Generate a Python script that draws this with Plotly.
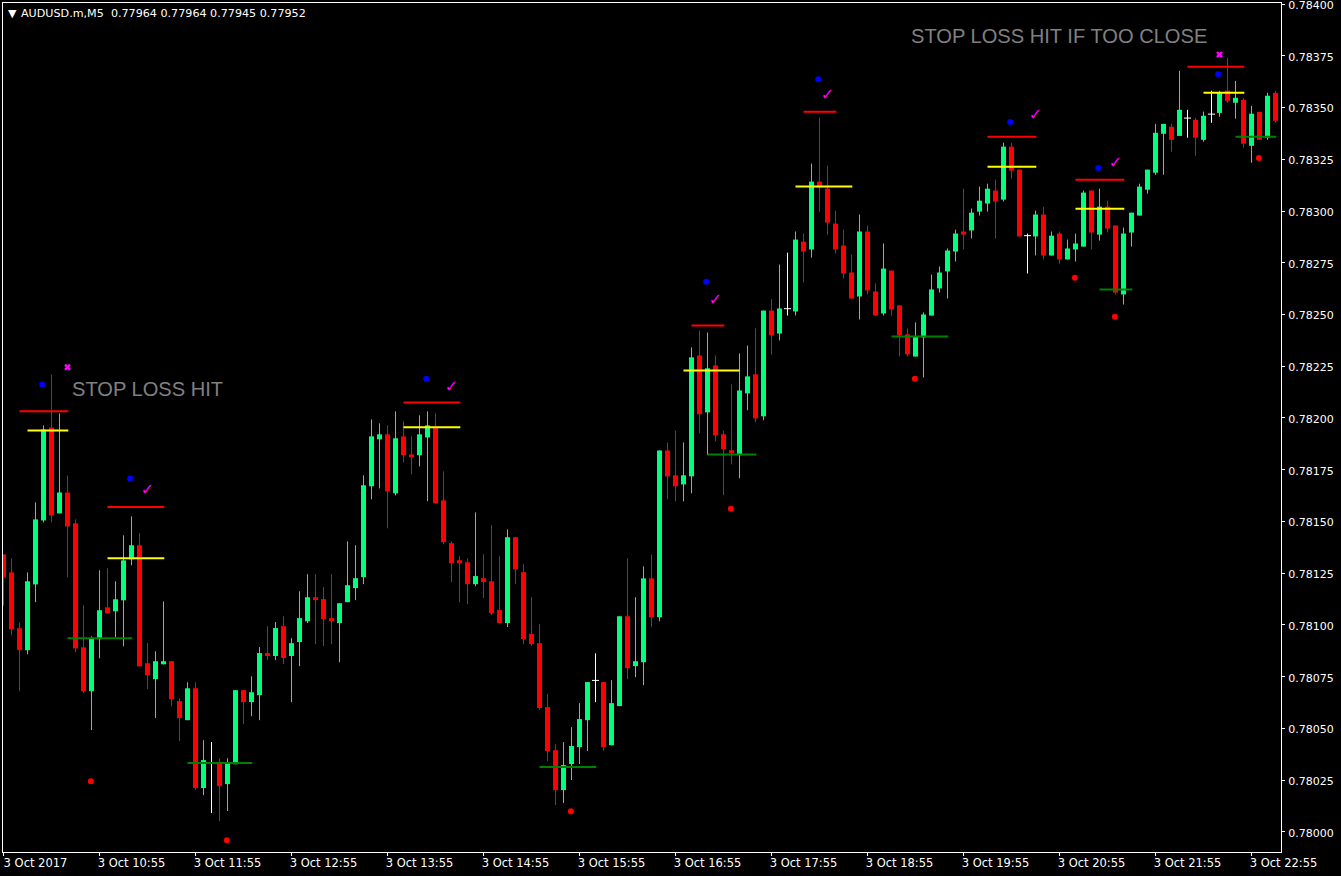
import plotly.graph_objects as go

# all prices are in points above zero, i.e. 78134.1 = 0.781341
BASE = 78000

opens = [134.1,125.4,98.4,87.8,119.6,150.5,195.4,153.9,164.0,149.1,89.2,68.0,93.1,108.5,106.6,111.9,131.7,138.5,81.5,73.8,
         81.0,82.5,63.2,54.0,69.4,21.2,33.1,33.1,23.1,32.7,68.5,62.7,66.1,86.4,85.0,99.4,85.0,91.7,101.8,113.4,
         112.5,103.3,100.9,111.0,117.8,123.1,167.0,189.7,192.1,163.6,191.1,182.4,182.0,190.6,195.5,160.2,139.5,131.3,130.3,119.7,
         122.6,121.1,107.2,100.9,142.4,125.5,95.6,91.2,60.3,39.5,20.2,32.8,41.0,54.0,73.2,72.4,41.9,60.8,104.2,80.1,
         82.0,122.5,103.7,184.3,172.3,167.9,171.8,230.2,202.7,225.4,192.1,184.4,182.0,211.9,221.1,200.8,251.9,240.8,252.8,251.5,
         285.2,281.4,314.2,310.8,293.9,283.3,270.3,258.7,290.1,261.1,250.5,271.2,254.4,240.4,229.7,238.9,249.5,262.6,270.8,280.4,
         290.1,290.6,299.7,303.6,309.9,305.5,331.1,320.0,288.1,287.7,298.3,278.5,289.1,276.6,281.4,282.8,309.9,288.6,302.1,293.0,
         259.7,289.6,297.8,310.3,318.5,337.3,340.7,336.3,344.9,344.1,334.4,346.8,347.4,358.1,352.3,353.7,331.5,347.9,335.4,357.1]
highs = [134.1,132.2,101.3,125.4,159.2,196.4,221.0,202.2,172.2,151.0,109.5,94.5,126.4,127.4,121.1,143.3,152.5,144.3,91.2,87.3,
         111.4,82.5,64.6,72.3,72.3,44.3,43.4,35.6,35.6,68.5,68.5,75.2,89.3,99.4,101.4,104.2,93.6,116.3,124.5,124.5,
         118.2,124.5,110.5,140.4,138.5,172.3,199.3,197.4,196.4,203.2,198.4,191.1,201.3,203.2,202.2,174.2,140.4,133.2,132.2,154.4,
         134.2,148.2,133.2,146.2,142.4,129.4,113.4,100.4,66.6,42.4,43.4,50.6,62.2,72.4,86.3,72.4,73.3,104.2,132.2,113.4,
         128.3,134.1,184.3,188.2,194.0,188.2,234.1,242.3,241.3,230.2,194.0,216.2,231.2,235.0,243.3,251.9,257.3,274.1,279.9,290.1,
         289.1,322.9,345.1,321.9,300.2,291.0,279.0,298.3,293.0,265.0,284.3,271.2,254.4,243.3,246.2,251.0,269.3,273.2,281.9,291.0,
         310.8,301.2,311.8,313.2,315.2,333.0,333.0,320.0,289.1,300.2,302.1,290.1,290.1,286.2,289.1,309.9,309.9,310.8,305.0,293.0,
         292.0,299.2,313.2,320.0,342.1,342.1,342.1,367.7,348.9,345.0,348.0,358.1,358.1,374.0,362.9,354.7,350.8,347.9,357.1,358.1]
lows = [109.2,95.0,68.0,85.8,111.0,149.6,149.6,153.9,123.0,86.8,67.0,49.2,83.9,105.6,94.1,89.7,128.8,80.0,69.0,55.0,
        81.0,60.7,43.9,54.0,20.2,17.8,9.1,5.2,10.1,32.7,52.1,55.9,54.0,83.0,83.0,81.1,62.7,80.1,100.9,90.7,
        89.8,90.7,82.0,111.0,112.0,119.7,160.7,166.0,146.7,162.6,178.6,172.8,176.6,159.8,158.8,139.0,120.7,111.0,110.0,118.7,
        113.0,104.7,100.9,99.0,119.7,90.7,89.8,58.9,34.2,13.0,14.0,25.1,32.8,39.1,62.7,39.1,41.9,60.8,73.8,74.8,
        70.9,98.9,101.8,160.7,159.7,159.7,163.6,192.6,182.0,188.7,162.7,177.6,170.9,203.7,197.9,198.9,230.7,237.5,249.5,249.5,
        265.5,277.5,299.7,288.6,279.5,267.4,257.7,247.6,259.7,249.5,249.5,249.5,229.7,229.7,229.7,219.6,249.5,260.6,257.7,275.6,
        281.4,286.7,297.8,299.7,286.7,304.6,315.7,287.7,269.8,278.5,276.6,278.5,274.6,276.6,275.6,282.8,281.4,285.7,289.6,259.7,
        254.8,282.8,297.8,308.4,317.5,317.5,328.6,336.3,335.4,326.7,333.5,342.6,345.5,352.3,344.6,330.6,323.3,334.4,334.4,342.6]
closes = [123.0,97.9,87.8,121.1,151.0,194.4,152.9,164.0,147.6,88.7,68.0,93.6,107.1,105.6,112.4,131.2,138.5,80.0,75.7,82.5,
          82.5,64.1,55.0,69.4,21.2,34.7,33.1,22.1,33.2,68.5,62.7,67.5,86.4,85.0,98.5,84.0,91.2,103.3,113.4,112.0,
          102.8,101.8,110.5,119.2,122.6,167.5,191.1,192.1,164.6,190.2,182.0,181.0,192.1,196.4,158.8,140.0,129.8,129.8,119.7,123.6,
          120.7,105.7,100.9,142.4,126.9,93.2,90.7,59.9,39.0,20.2,32.3,41.5,54.5,72.4,73.2,41.0,62.2,104.2,79.1,82.5,
          122.5,103.7,184.3,171.8,167.0,172.3,229.3,201.8,224.0,191.6,184.9,183.0,213.3,220.1,199.8,251.9,239.9,252.9,252.8,286.2,
          280.4,314.2,311.3,294.4,281.4,269.8,257.7,290.1,261.6,249.5,272.2,252.4,239.9,230.7,239.4,250.0,262.1,270.3,280.9,289.1,
          288.6,299.2,305.0,310.8,304.6,331.1,319.5,287.7,288.1,298.3,278.5,288.1,276.6,281.9,284.3,308.9,289.6,302.1,291.5,260.6,
          289.1,299.2,311.8,320.0,337.8,342.1,334.4,348.9,344.9,335.4,346.0,346.8,357.1,353.2,354.7,332.5,347.0,334.4,355.7,343.6]

# indicator levels: first bar, last bar, price
sl_start = [2, 13, 50, 86, 100, 123, 134, 148]
sl_end = [8.1, 20.1, 57.1, 90.1, 104.1, 129.1, 140.1, 155.1]
sl_level = [203.3, 157.0, 207.5, 244.7, 348.0, 335.9, 315.1, 369.7]
entry_start = [3, 13, 50, 85, 99, 123, 134, 150]
entry_end = [8.1, 20.1, 57.1, 92, 106.1, 129.1, 140.1, 155.1]
entry_level = [194.0, 132.2, 195.5, 223.0, 311.8, 321.4, 301.1, 357.1]
tp_start = [8, 23, 67, 88, 111, 137, 154]
tp_end = [16.1, 31.1, 74.1, 94.1, 118.1, 141.1, 159.1]
tp_level = [93.6, 33.3, 31.4, 182.4, 239.4, 262.1, 335.9]

blue_x = [4.84, 15.84, 52.84, 87.84, 101.84, 125.84, 136.84, 151.84]
blue_y = [216.2, 170.8, 219.0, 265.8, 363.7, 343.0, 320.8, 366.1]
red_x = [10.92, 27.92, 70.92, 90.92, 113.92, 133.92, 138.92, 156.92]
red_y = [24.5, -4.0, 10.0, 156.2, 219.0, 267.7, 248.9, 325.6]
check_x = [18, 56, 89, 103, 129, 139]
check_y = [164.6, 214.3, 256.7, 355.7, 346.0, 322.9]
cross_x = [8, 152]
cross_y = [224.5, 375.6]

tick_bars = list(range(0, 160, 12))
tick_text = ["3 Oct 2017", "3 Oct 10:55", "3 Oct 11:55", "3 Oct 12:55", "3 Oct 13:55", "3 Oct 14:55", "3 Oct 15:55",
             "3 Oct 16:55", "3 Oct 17:55", "3 Oct 18:55", "3 Oct 19:55", "3 Oct 20:55", "3 Oct 21:55", "3 Oct 22:55"]

UP = "#00FF7F"
DOWN = "#FF0000"


def price(p):
    return (BASE + p) / 1e5


def wick_trace(bars, color):
    xs, ys = [], []
    for i in bars:
        xs += [i, i, None]
        ys += [price(lows[i]), price(highs[i]), None]
    return go.Scatter(x=xs, y=ys, mode="lines", line=dict(color=color, width=1), hoverinfo="skip")


def body_trace(bars, color):
    return go.Bar(
        x=bars,
        base=[price(min(opens[i], closes[i])) for i in bars],
        y=[abs(closes[i] - opens[i]) / 1e5 for i in bars],
        marker=dict(color=color, line=dict(width=0)),
    )


def level_trace(starts, ends, levels, color):
    xs, ys = [], []
    for a, b, v in zip(starts, ends, levels):
        xs += [a, b, None]
        ys += [price(v), price(v), None]
    return go.Scatter(x=xs, y=ys, mode="lines", line=dict(color=color, width=2), hoverinfo="skip")


def dot_trace(xs, ys, color):
    return go.Scatter(x=xs, y=[price(v) for v in ys], mode="markers", marker=dict(color=color, size=6))


up_bars = [i for i in range(len(opens)) if closes[i] > opens[i]]
down_bars = [i for i in range(len(opens)) if closes[i] < opens[i]]
doji_bars = [i for i in range(len(opens)) if closes[i] == opens[i]]

fig = go.Figure()
fig.add_trace(wick_trace(up_bars, UP))
fig.add_trace(wick_trace(down_bars, DOWN))
fig.add_trace(wick_trace(doji_bars, "#FFFFFF"))
fig.add_trace(body_trace(up_bars, UP))
fig.add_trace(body_trace(down_bars, DOWN))
fig.add_trace(go.Scatter(
    x=doji_bars, y=[price(opens[i]) for i in doji_bars], mode="markers",
    marker=dict(symbol="line-ew", size=5, color="#FFFFFF", line=dict(color="#FFFFFF", width=1)),
))
fig.add_trace(level_trace(sl_start, sl_end, sl_level, "#FF0000"))
fig.add_trace(level_trace(entry_start, entry_end, entry_level, "#FFFF00"))
fig.add_trace(level_trace(tp_start, tp_end, tp_level, "#008000"))
fig.add_trace(dot_trace(blue_x, blue_y, "#0000FF"))
fig.add_trace(dot_trace(red_x, red_y, "#FF0000"))
fig.add_trace(go.Scatter(
    x=check_x, y=[price(v) for v in check_y], mode="text", text=["✓"] * len(check_x),
    textfont=dict(color="#FF00FF", size=16, family="DejaVu Sans"),
))
fig.add_trace(go.Scatter(
    x=cross_x, y=[price(v) for v in cross_y], mode="markers",
    marker=dict(symbol="x", size=6, color="#FF00FF", line=dict(width=0)),
))

annot_font = dict(family="Liberation Sans", size=20.1, color="#808080")
fig.add_annotation(x=8.3, y=price(213.8), text="STOP LOSS HIT", xanchor="left", yanchor="middle", showarrow=False,
                   font=annot_font)
fig.add_annotation(x=113.2, y=price(384.6), text="STOP LOSS HIT IF TOO CLOSE", xanchor="left", yanchor="middle",
                   showarrow=False, font=annot_font)
header_font = dict(family="DejaVu Sans", size=11.15, color="#FFFFFF")
fig.add_annotation(xref="paper", yref="paper", x=0.002, y=0.988, text="▼", xanchor="left", yanchor="middle",
                   showarrow=False, font=dict(family="DejaVu Sans", size=11, color="#FFFFFF"))
fig.add_annotation(xref="paper", yref="paper", x=0.0125, y=0.988, xanchor="left", yanchor="middle", showarrow=False,
                   font=header_font, text="AUDUSD.m,M5  0.77964 0.77964 0.77945 0.77952")

fig.update_layout(
    width=1341,
    height=876,
    margin=dict(l=3, r=60, t=3, b=24, autoexpand=False),
    paper_bgcolor="#000000",
    plot_bgcolor="#000000",
    showlegend=False,
    bargap=0.375,
    barmode="overlay",
    font=dict(family="DejaVu Sans", size=11, color="#FFFFFF"),
    xaxis=dict(
        range=[-0.0625, 159.6875],
        tickvals=tick_bars,
        ticktext=tick_text,
        ticks="outside",
        ticklen=3,
        tickcolor="#FFFFFF",
        tickfont=dict(size=11.5),
        ticklabelshift=32,
        ticklabelstandoff=-3,
        ticklabeloverflow="allow",
        showgrid=False,
        zeroline=False,
        showline=True,
        linecolor="#FFFFFF",
        linewidth=1,
        mirror=True,
    ),
    yaxis=dict(
        side="right",
        range=[0.779903, 0.784005],
        tick0=0.78,
        dtick=0.00025,
        tickformat=".5f",
        ticks="outside",
        ticklen=3,
        tickcolor="#FFFFFF",
        ticklabelstandoff=1,
        ticklabelshift=1,
        ticklabeloverflow="allow",
        showgrid=False,
        zeroline=False,
        showline=True,
        linecolor="#FFFFFF",
        linewidth=1,
        mirror=True,
    ),
)

fig.write_html(
    "out.html",
    config=dict(displayModeBar=False),
    post_script="document.body.style.margin='0';document.body.style.background='#000';",
)
